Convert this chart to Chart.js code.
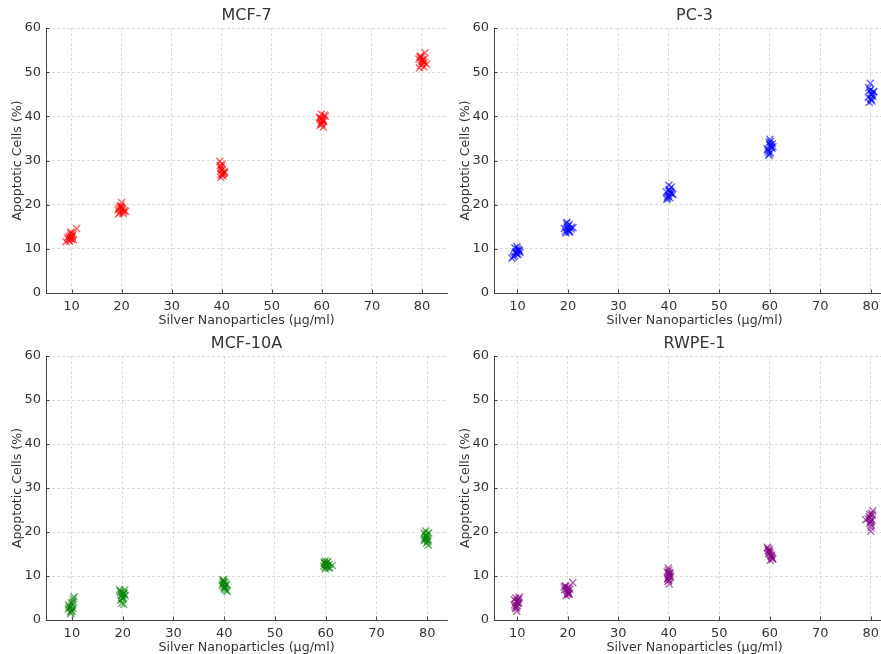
<!DOCTYPE html>
<html>
<head>
<meta charset="utf-8">
<script src="https://cdn.jsdelivr.net/npm/chart.js@4"></script>
<style>
  html, body { margin: 0; padding: 0; background: #fff; }
  #wrap { position: relative; width: 881px; height: 654px; overflow: hidden; }
  .cell { position: absolute; }
</style>
</head>
<body>
<div id="wrap">
  <div class="cell" style="left:0;top:0"><canvas id="c0" width="450" height="330"></canvas></div>
  <div class="cell" style="left:448px;top:0"><canvas id="c1" width="450" height="330"></canvas></div>
  <div class="cell" style="left:0;top:328px"><canvas id="c2" width="450" height="329"></canvas></div>
  <div class="cell" style="left:448px;top:328px"><canvas id="c3" width="450" height="329"></canvas></div>
</div>
<script>
/* Данные: концентрации и значения (по 15 повторов на каждую концентрацию) */
const xTicks = [10, 20, 30, 40, 50, 60, 70, 80];
const yTicks = [0, 10, 20, 30, 40, 50, 60];
const cellLines = ["MCF-7", "PC-3", "MCF-10A", "RWPE-1"];
const lineColors = ["rgba(255,0,0,0.6)", "rgba(0,0,255,0.6)", "rgba(0,128,0,0.6)", "rgba(128,0,128,0.6)"];

// MCF-7
const mcf7X = [
    9.4, 9.8, 10.1, 9.6, 10.3, 8.9, 9.9, 11.0, 9.7, 10.2, 9.5, 10.0, 9.8, 10.4, 9.2,
    19.6, 20.2, 20.5, 19.4, 20.0, 19.8, 20.8, 19.9, 20.3, 19.5, 20.1, 19.7, 20.4, 19.3, 20.0,
    39.8, 40.3, 40.0, 39.6, 40.5, 40.1, 39.9, 40.6, 39.7, 40.2, 40.0, 39.8, 40.4, 40.1, 39.9,
    59.7, 60.2, 60.5, 59.5, 60.0, 60.3, 59.9, 60.7, 59.8, 60.1, 60.4, 59.6, 60.0, 60.2, 59.9,
    79.4, 80.1, 80.6, 79.8, 80.3, 79.6, 80.9, 80.0, 79.9, 80.4, 80.2, 79.7, 80.5, 80.0, 79.5
];
const mcf7Y = [
    12.1, 13.0, 12.6, 11.7, 13.3, 11.6, 13.8, 14.6, 12.4, 12.9, 12.8, 12.2, 13.5, 12.0, 12.5,
    18.2, 19.0, 18.7, 17.9, 20.5, 19.4, 18.5, 19.8, 18.0, 19.2, 18.9, 19.6, 18.4, 18.8, 19.3,
    26.2, 27.0, 28.0, 29.8, 27.5, 26.8, 28.6, 27.3, 28.9, 26.5, 27.8, 28.3, 27.1, 29.2, 26.9,
    38.0, 39.2, 40.3, 39.8, 38.7, 37.6, 39.5, 40.0, 38.4, 39.0, 38.9, 39.6, 38.2, 39.3, 40.5,
    53.0, 52.4, 54.4, 51.5, 52.9, 53.4, 51.8, 52.0, 53.3, 51.2, 52.6, 53.7, 52.2, 52.8, 51.0
];

// PC-3
const pc3X = [
    9.2, 9.7, 10.3, 9.5, 10.1, 9.9, 10.5, 9.4, 10.0, 9.8, 8.9, 10.2, 9.6, 10.4, 9.9,
    19.5, 20.0, 20.6, 19.8, 21.0, 19.6, 20.3, 20.1, 19.9, 20.4, 19.3, 20.7, 19.7, 20.2, 20.0,
    39.7, 40.2, 40.5, 39.9, 40.1, 40.8, 39.6, 40.3, 40.0, 40.4, 39.8, 40.6, 40.0, 39.5, 40.2,
    59.8, 60.3, 60.0, 59.6, 60.5, 60.1, 59.9, 60.4, 60.2, 59.7, 60.0, 59.5, 60.6, 60.1, 59.9,
    79.7, 80.2, 79.9, 80.5, 80.0, 79.6, 80.3, 80.1, 79.8, 80.4, 80.0, 79.5, 80.6, 80.2, 79.9
];
const pc3Y = [
    8.2, 9.0, 9.6, 10.2, 8.7, 9.4, 9.1, 8.5, 10.0, 8.9, 7.9, 9.8, 9.3, 9.5, 10.5,
    14.0, 15.2, 14.5, 16.0, 14.8, 13.6, 15.5, 14.2, 15.0, 13.9, 14.6, 14.9, 15.7, 13.8, 14.4,
    21.5, 22.8, 24.0, 22.0, 23.5, 22.3, 21.2, 23.0, 24.4, 22.6, 21.8, 22.5, 23.2, 22.9, 21.6,
    31.2, 33.0, 34.8, 32.4, 33.8, 31.8, 34.0, 32.8, 33.3, 32.0, 33.6, 32.6, 33.1, 34.3, 31.5,
    43.2, 44.8, 47.5, 45.5, 44.0, 46.5, 45.0, 43.8, 45.8, 44.5, 45.2, 44.3, 45.6, 43.5, 46.0
];

// MCF-10A
const mcf10aX = [
    9.3, 10.0, 10.4, 9.7, 10.2, 9.5, 10.3, 9.9, 10.1, 9.8, 9.6, 10.0, 9.4, 10.2, 9.9,
    19.5, 20.1, 20.4, 19.8, 20.0, 19.6, 20.3, 19.9, 20.2, 19.7, 20.5, 19.4, 20.0, 20.2, 19.8,
    39.6, 40.1, 40.4, 39.8, 40.0, 40.3, 39.9, 40.6, 40.2, 39.7, 40.0, 40.5, 39.8, 40.1, 39.9,
    59.6, 60.2, 60.7, 59.9, 61.3, 60.4, 60.0, 59.8, 60.5, 60.1, 59.7, 60.3, 60.8, 60.0, 59.9,
    79.4, 80.0, 79.7, 80.2, 79.5, 79.9, 80.1, 79.6, 80.3, 79.8, 79.7, 80.0, 79.4, 79.9, 80.1
];
const mcf10aY = [
    2.5, 3.2, 5.3, 1.8, 4.2, 3.0, 4.8, 2.2, 3.6, 1.5, 2.8, 2.0, 3.4, 2.6, 3.9,
    6.5, 5.2, 6.8, 3.8, 5.8, 4.5, 6.0, 5.0, 3.6, 6.3, 5.5, 6.9, 4.8, 6.2, 5.6,
    7.8, 8.5, 6.8, 9.2, 7.2, 8.0, 8.8, 6.5, 7.5, 8.3, 7.6, 8.1, 9.0, 7.0, 8.6,
    12.2, 13.0, 12.6, 11.6, 12.4, 13.3, 12.0, 12.8, 11.9, 12.5, 13.1, 12.3, 11.8, 12.7, 13.4,
    18.0, 19.5, 20.2, 17.0, 18.6, 19.0, 17.8, 18.3, 19.8, 18.9, 19.2, 18.5, 19.7, 17.5, 18.1
];

// RWPE-1
const rwpe1X = [
    9.5, 10.1, 10.4, 9.7, 10.0, 9.6, 10.3, 9.9, 10.2, 9.8, 9.4, 10.0, 9.7, 10.3, 9.9,
    19.3, 20.0, 20.4, 19.7, 21.0, 19.9, 20.2, 19.5, 20.1, 19.8, 20.3, 19.6, 20.0, 19.4, 20.2,
    39.8, 40.2, 39.9, 40.1, 40.0, 40.3, 39.7, 40.0, 40.2, 39.9, 40.1, 39.8, 40.0, 40.3, 39.9,
    59.5, 60.0, 60.4, 59.8, 60.6, 60.2, 59.9, 60.3, 60.1, 59.7, 60.5, 59.6, 60.0, 60.3, 59.8,
    79.0, 79.7, 80.1, 80.4, 79.9, 80.0, 80.3, 79.8, 80.2, 79.5, 80.0, 79.9, 80.1, 79.8, 80.2
];
const rwpe1Y = [
    3.5, 4.5, 5.2, 2.6, 4.0, 3.0, 4.8, 2.0, 3.8, 4.2, 4.6, 3.3, 5.0, 3.9, 2.8,
    7.5, 6.2, 7.0, 5.6, 8.5, 6.8, 5.8, 7.8, 6.5, 7.2, 6.0, 7.6, 5.9, 6.9, 7.3,
    9.5, 10.5, 11.8, 8.2, 9.0, 10.0, 11.0, 9.8, 10.8, 8.8, 10.2, 9.3, 11.3, 9.7, 10.6,
    16.5, 15.5, 14.2, 15.0, 13.8, 14.8, 16.0, 14.5, 13.6, 15.8, 14.0, 16.3, 15.2, 14.6, 15.6,
    22.8, 23.5, 21.0, 24.8, 22.5, 20.2, 23.8, 22.0, 24.2, 23.0, 22.3, 23.2, 21.6, 24.0, 22.7
];

const seriesX = [mcf7X, pc3X, mcf10aX, rwpe1X];
const seriesY = [mcf7Y, pc3Y, mcf10aY, rwpe1Y];

/* Пределы оси X у каждого графика немного разные (как в оригинале) */
const xLimits = [[4.9, 85.0], [5.35, 84.8], [4.9, 83.9], [5.4, 84.8]];

const FONT = "'DejaVu Sans', sans-serif";
const TEXT = "#333";

/* Засечки внутрь области графика */
const inwardTicks = {
    id: "inwardTicks",
    afterDraw(chart) {
        const { ctx, chartArea: a, scales: { x, y } } = chart;
        ctx.save();
        ctx.strokeStyle = "#444";
        ctx.lineWidth = 1;
        ctx.beginPath();
        x.ticks.forEach(t => {
            const px = Math.round(x.getPixelForValue(t.value)) + 0.5;
            ctx.moveTo(px, a.bottom);
            ctx.lineTo(px, a.bottom - 3.5);
        });
        y.ticks.forEach(t => {
            const py = Math.round(y.getPixelForValue(t.value)) + 0.5;
            ctx.moveTo(a.left, py);
            ctx.lineTo(a.left + 3.5, py);
        });
        ctx.stroke();
        ctx.restore();
    }
};

function drawPanel(i) {
    const points = seriesX[i].map((x, k) => ({ x: x, y: seriesY[i][k] }));

    new Chart(document.getElementById("c" + i), {
        type: "scatter",
        data: {
            datasets: [{
                label: cellLines[i],
                data: points,
                pointStyle: "crossRot",
                pointRadius: 5,
                pointBorderWidth: 1.4,
                borderColor: lineColors[i],
                backgroundColor: lineColors[i]
            }]
        },
        options: {
            responsive: false,
            animation: false,
            // без autoPadding Chart.js не съедает место под маркеры справа
            layout: { autoPadding: false, padding: { right: 3 } },
            plugins: {
                legend: { display: false },
                tooltip: { enabled: false },
                title: {
                    display: true,
                    fullSize: false,
                    text: cellLines[i],
                    color: TEXT,
                    font: { family: FONT, size: 16, weight: "normal" },
                    padding: { top: 6, bottom: 2.8 }
                }
            },
            scales: {
                x: {
                    type: "linear",
                    min: xLimits[i][0],
                    max: xLimits[i][1],
                    afterBuildTicks: s => { s.ticks = xTicks.map(v => ({ value: v })); },
                    afterFit: s => { s.height = 37; },
                    grid: { color: "#d4d4d4", lineWidth: 0.8, drawTicks: false },
                    border: { color: "#444", width: 1, dash: [3, 2] },
                    ticks: { color: TEXT, font: { family: FONT, size: 13 }, padding: 6, maxRotation: 0 },
                    title: {
                        display: true,
                        text: "Silver Nanoparticles (μg/ml)",
                        color: TEXT,
                        font: { family: FONT, size: 12.6 },
                        padding: { top: 0, bottom: 2 }
                    }
                },
                y: {
                    min: 0,
                    max: 60,
                    afterBuildTicks: s => { s.ticks = yTicks.map(v => ({ value: v })); },
                    afterFit: s => { s.width = 46; },
                    grid: { color: "#d4d4d4", lineWidth: 0.8, drawTicks: false },
                    border: { color: "#444", width: 1, dash: [3, 2] },
                    ticks: { color: TEXT, font: { family: FONT, size: 13 }, padding: 5 },
                    title: {
                        display: true,
                        text: "Apoptotic Cells (%)",
                        color: TEXT,
                        font: { family: FONT, size: 12.6 },
                        padding: { top: 10, bottom: 0 }
                    }
                }
            }
        },
        plugins: [inwardTicks]
    });
}

cellLines.forEach((_, i) => drawPanel(i));
</script>
</body>
</html>
